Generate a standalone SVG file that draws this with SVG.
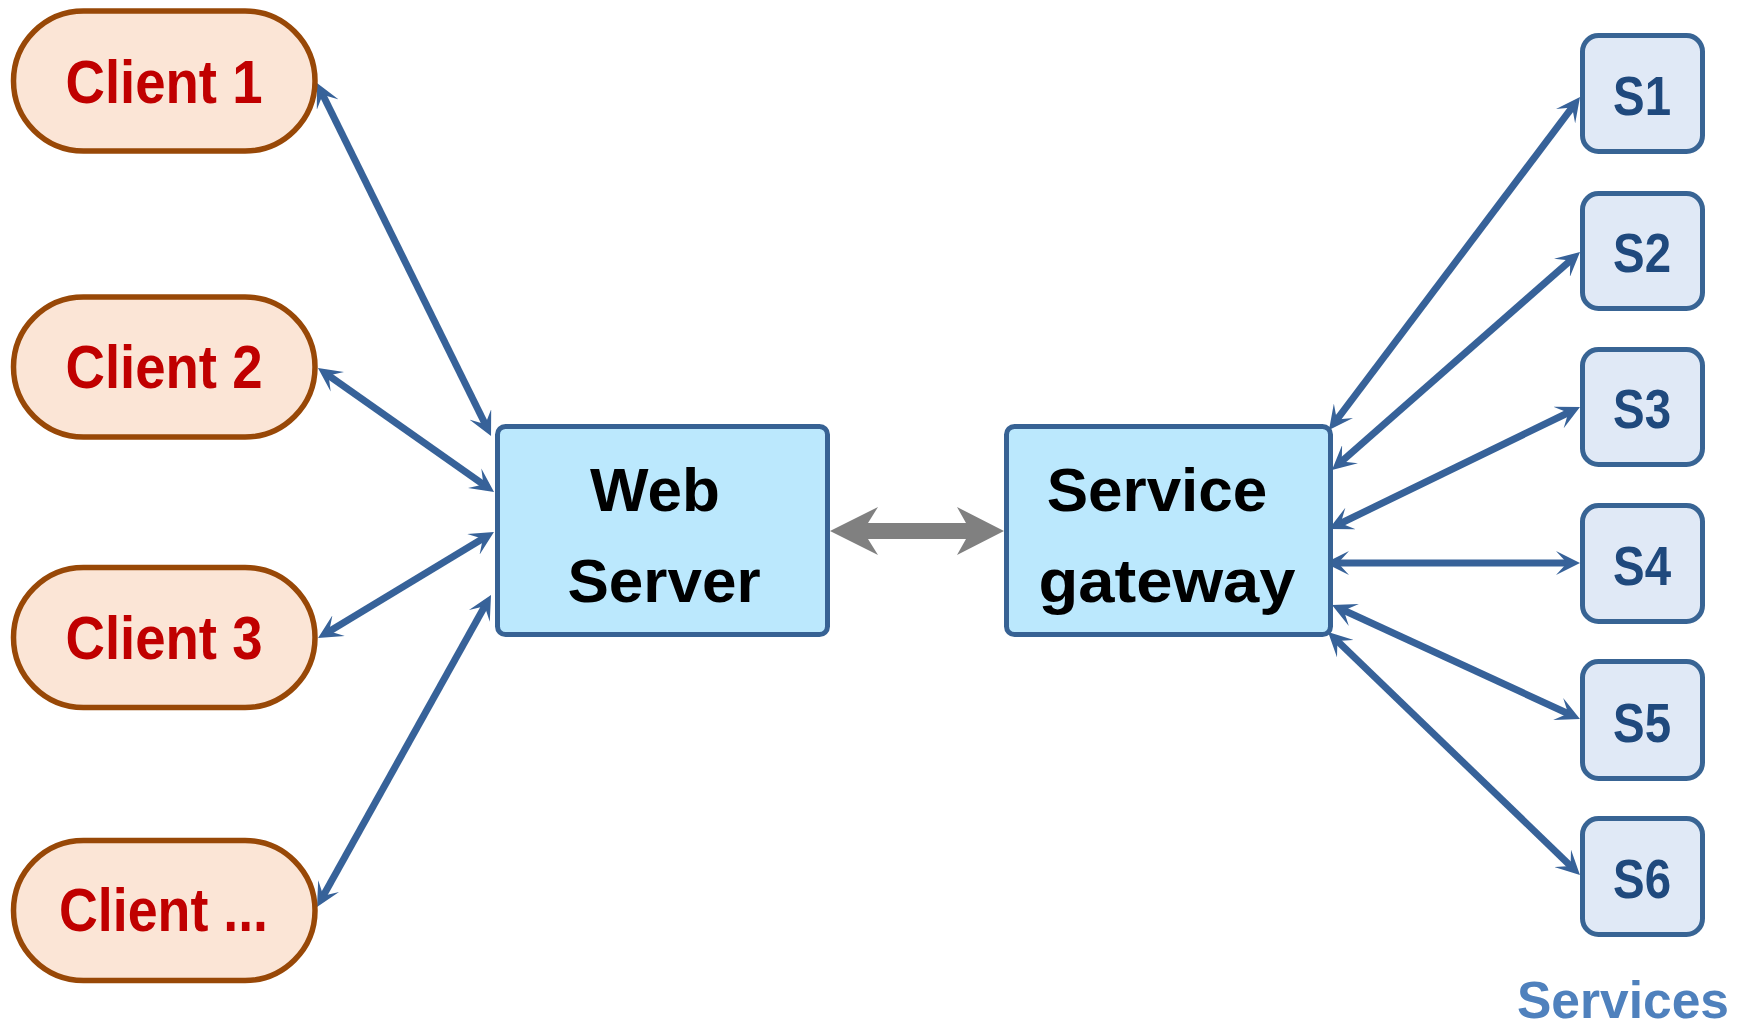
<svg xmlns="http://www.w3.org/2000/svg" width="1747" height="1029" viewBox="0 0 1747 1029">
<style>
.pill{fill:#FBE5D6;stroke:#984807;stroke-width:5.5}
.ctext{font-family:"Liberation Sans",Arial,sans-serif;font-weight:bold;font-size:61px;fill:#C00000;text-anchor:middle}
.box{fill:#BBE8FD;stroke:#376294;stroke-width:5}
.btext{font-family:"Liberation Sans",Arial,sans-serif;font-weight:bold;font-size:62px;fill:#000;text-anchor:middle}
.sbox{fill:#E0E9F6;stroke:#386494;stroke-width:5}
.stext{font-family:"Liberation Sans",Arial,sans-serif;font-weight:bold;font-size:56px;fill:#1F497D;text-anchor:middle}
.conn{stroke:#376299;stroke-width:7;fill:none;marker-start:url(#ah);marker-end:url(#ah)}
.label{font-family:"Liberation Sans",Arial,sans-serif;font-weight:bold;font-size:52px;fill:#4F81BD}
</style>
<defs>
<marker id="ah" markerUnits="userSpaceOnUse" viewBox="0 0 24 24" markerWidth="24" markerHeight="24" refX="16" refY="12" orient="auto-start-reverse">
<path d="M0,0 L24,12 L0,24 L11,12 z" fill="#376299"/>
</marker>
</defs>
<g id="connectors">
<line class="conn" x1="320.5" y1="90.2" x2="487.5" y2="428.8"/>
<line class="conn" x1="324.5" y1="372.6" x2="487.5" y2="487.4"/>
<line class="conn" x1="324.9" y1="633.9" x2="487.1" y2="536.1"/>
<line class="conn" x1="320.9" y1="900" x2="487.1" y2="602"/>
<line class="conn" x1="1333.8" y1="423.6" x2="1575.2" y2="103.4"/>
<line class="conn" x1="1338" y1="464.7" x2="1574" y2="257.3"/>
<line class="conn" x1="1336.2" y1="525.5" x2="1572.8" y2="410.5"/>
<line class="conn" x1="1333" y1="563" x2="1572" y2="563"/>
<line class="conn" x1="1339.3" y1="608.3" x2="1572.7" y2="715.7"/>
<line class="conn" x1="1333.8" y1="637.6" x2="1574.2" y2="869.4"/>
<polygon id="gray-arrow" points="830,531 878,507 868,523 966,523 957,507 1004,531 957,555 966,539 868,539 878,555" fill="#808080"/>
</g>
<g id="client1"><rect class="pill" x="13.5" y="11" width="301.5" height="140" rx="70"/><text class="ctext" x="164" y="103" textLength="197" lengthAdjust="spacingAndGlyphs">Client 1</text></g>
<g id="client2"><rect class="pill" x="13.5" y="297" width="301.5" height="140" rx="70"/><text class="ctext" x="164" y="388" textLength="197" lengthAdjust="spacingAndGlyphs">Client 2</text></g>
<g id="client3"><rect class="pill" x="13.5" y="567.5" width="301.5" height="140" rx="70"/><text class="ctext" x="164" y="658.5" textLength="197" lengthAdjust="spacingAndGlyphs">Client 3</text></g>
<g id="client4"><rect class="pill" x="13.5" y="840.5" width="301.5" height="140" rx="70"/><text class="ctext" x="163.5" y="931" textLength="209" lengthAdjust="spacingAndGlyphs">Client ...</text></g>
<g id="webserver"><rect class="box" x="497.5" y="426.5" width="330" height="208" rx="8"/><text class="btext" x="655" y="511">Web</text><text class="btext" x="664" y="602">Server</text></g>
<g id="gateway"><rect class="box" x="1006.5" y="426.5" width="324" height="208" rx="8"/><text class="btext" x="1157" y="511">Service</text><text class="btext" x="1167" y="602" textLength="257" lengthAdjust="spacingAndGlyphs">gateway</text></g>
<g id="s1"><rect class="sbox" x="1582.5" y="35.5" width="120" height="116" rx="16"/><text class="stext" x="1642" y="115" textLength="58" lengthAdjust="spacingAndGlyphs">S1</text></g>
<g id="s2"><rect class="sbox" x="1582.5" y="193.5" width="120" height="115" rx="16"/><text class="stext" x="1642" y="272" textLength="58" lengthAdjust="spacingAndGlyphs">S2</text></g>
<g id="s3"><rect class="sbox" x="1582.5" y="349.5" width="120" height="115" rx="16"/><text class="stext" x="1642" y="428" textLength="58" lengthAdjust="spacingAndGlyphs">S3</text></g>
<g id="s4"><rect class="sbox" x="1582.5" y="505.5" width="120" height="116" rx="16"/><text class="stext" x="1642" y="585" textLength="58" lengthAdjust="spacingAndGlyphs">S4</text></g>
<g id="s5"><rect class="sbox" x="1582.5" y="661.5" width="120" height="117" rx="16"/><text class="stext" x="1642" y="741.5" textLength="58" lengthAdjust="spacingAndGlyphs">S5</text></g>
<g id="s6"><rect class="sbox" x="1582.5" y="818.5" width="120" height="116" rx="16"/><text class="stext" x="1642" y="898" textLength="58" lengthAdjust="spacingAndGlyphs">S6</text></g>
<text id="services-label" class="label" x="1517" y="1018" textLength="212" lengthAdjust="spacingAndGlyphs">Services</text>
</svg>
